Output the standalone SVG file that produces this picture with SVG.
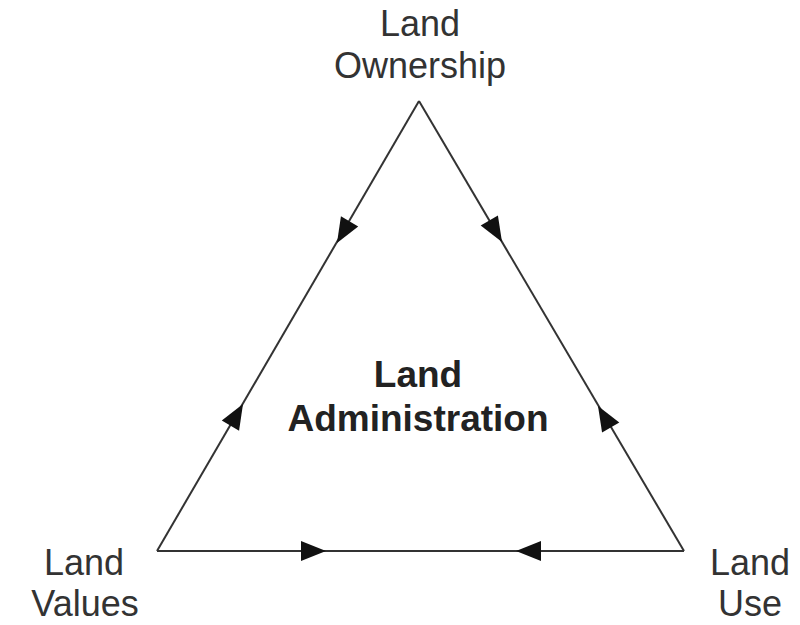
<svg xmlns="http://www.w3.org/2000/svg" width="800" height="625" viewBox="0 0 800 625">
<defs>
<style>
.lbl{font-family:"Liberation Sans",Arial,sans-serif;font-size:36px;fill:#333;text-anchor:middle}
.ctr{font-family:"Liberation Sans",Arial,sans-serif;font-size:37px;font-weight:bold;fill:#222;text-anchor:middle}
.edge{stroke:#333;stroke-width:2;fill:none}
.ah{fill:#111}
</style>
<polygon id="arrow" points="0,0 -25,-10 -25,10"/>
</defs>
<rect width="800" height="625" fill="#fff"/>
<g id="connectors">
<line class="edge" x1="419" y1="101" x2="157" y2="551"/>
<line class="edge" x1="419" y1="101" x2="684" y2="551"/>
<line class="edge" x1="157" y1="551" x2="684" y2="551"/>
<use href="#arrow" class="ah" transform="translate(337,243) rotate(120.2)"/>
<use href="#arrow" class="ah" transform="translate(243,404) rotate(-59.8)"/>
<use href="#arrow" class="ah" transform="translate(502,242) rotate(59.5)"/>
<use href="#arrow" class="ah" transform="translate(598,406) rotate(-120.5)"/>
<use href="#arrow" class="ah" transform="translate(326,551)"/>
<use href="#arrow" class="ah" transform="translate(516,551) rotate(180)"/>
</g>
<g id="ownership"><text class="lbl" x="420" y="36">Land</text><text class="lbl" x="420" y="78">Ownership</text></g>
<g id="administration"><text class="ctr" x="418" y="387">Land</text><text class="ctr" x="418" y="431">Administration</text></g>
<g id="values"><text class="lbl" x="84" y="575">Land</text><text class="lbl" x="85" y="616">Values</text></g>
<g id="use"><text class="lbl" x="750" y="575">Land</text><text class="lbl" x="750" y="616">Use</text></g>
</svg>
